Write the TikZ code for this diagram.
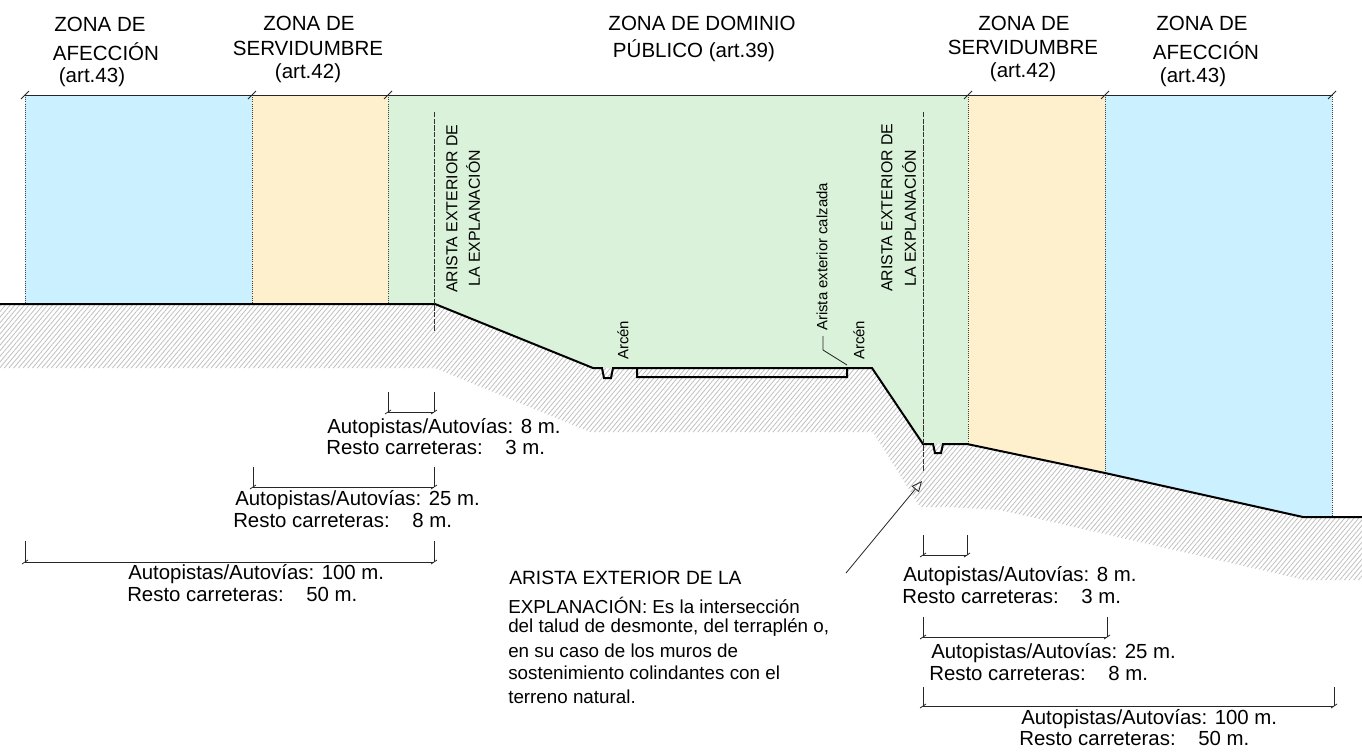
\documentclass[tikz,border=0pt]{standalone}
\usepackage{fontspec}
\setmainfont{Liberation Sans}
\usetikzlibrary{arrows.meta,patterns.meta}
\definecolor{zoneblue}{HTML}{CBF0FF}
\definecolor{zonetan}{HTML}{FFF0CD}
\definecolor{zonegreen}{HTML}{D9F2D9}
\begin{document}
\begin{tikzpicture}[
		x=0.75pt,y=-0.75pt,
		bigtext/.style={anchor=west,inner sep=0pt,font=\fontsize{15.3pt}{17pt}\selectfont},
		zonetext/.style={inner sep=0pt,font=\fontsize{15.4pt}{17pt}\selectfont},
		headtext/.style={anchor=west,inner sep=0pt,font=\fontsize{14.4pt}{17pt}\selectfont},
		notetext/.style={anchor=west,inner sep=0pt,font=\fontsize{14.1pt}{16pt}\selectfont},
		sidetext/.style={anchor=west,rotate=90,inner sep=0pt,font=\fontsize{11.9pt}{14pt}\selectfont},
		smalltext/.style={anchor=west,rotate=90,inner sep=0pt,font=\fontsize{11.2pt}{13pt}\selectfont},
		dimline/.style={draw=black!85,line width=0.6pt},
		zoneedge/.style={draw=black!75,line width=0.6pt,densely dotted},
		axisline/.style={draw=black!80,line width=0.6pt,dash pattern=on 4pt off 1pt},
		groundline/.style={draw=black,line width=1.5pt,line join=miter}
		]
		\useasboundingbox (0,0) rectangle (1362,754);
		% hatched ground
		\fill[pattern={Lines[angle=50,distance=2.7pt,line width=0.6pt]},pattern color=black!25]
			(0,304) -- (435,304) -- (593,368) -- (872,368) -- (923,444) -- (967,444) -- (1303,517) -- (1362,517)
			-- (1362,580) -- (1305,580) -- (1000,510) -- (950,507) -- (920,507) -- (873,432) -- (590,432) -- (435,368) -- (0,368) -- cycle;
		% zones
		\fill[zoneblue] (25,95) rectangle (252,304);
		\fill[zonetan] (252,95) rectangle (388,304);
		\fill[zonegreen] (388,95) -- (968,95) -- (968,444) -- (923,444) -- (872,368) -- (593,368) -- (435,304) -- (388,304) -- cycle;
		\fill[zonetan] (968,95) -- (1105,95) -- (1105,473) -- (968,444) -- cycle;
		\fill[zoneblue] (1105,95) -- (1332,95) -- (1332,517) -- (1303,517) -- (1105,473) -- cycle;
		\foreach \xa/\ya in {25/304,252/304,388/304,968/444,1105/478,1332/517}{
			\path[zoneedge] (\xa,95) -- (\xa,\ya);
			\draw[dimline] (\xa-4,99) -- (\xa+4,91);
		}
		\coordinate (topleft) at (25,95);
		\coordinate (topright) at (1332,95);
		\draw[dimline] (topleft) -- (topright);
		% ground
		\draw[groundline] (0,304) -- (435,304) -- (593,368) -- (602,368) -- (604,378) -- (611,378) -- (613,368) -- (637,368) -- (637,377) -- (847,377) -- (847,368) -- (637,368);
		\draw[groundline] (847,368) -- (872,368) -- (923,444) -- (933,444) -- (935,453) -- (941,453) -- (943,444) -- (967,444) -- (1105,473) -- (1303,517) -- (1362,517);
		\draw[axisline] (434,112) -- (434,332);
		\draw[axisline] (923,112) -- (923,472);
		% dimensions
		\foreach \xa/\xb/\ya/\yb in {388/434/392/412,253/434/467/487,25/434/541/562,923/967/535/555,923/1107/617/637,923/1334/687/706}{
			\coordinate (dima) at (\xa,\yb);
			\coordinate (dimb) at (\xb,\yb);
			\draw[dimline] (dima) -- (dimb);
			\draw[dimline] (\xa,\ya) -- (dima) (\xb,\ya) -- (dimb);
			\draw[dimline] (\xa-3,\yb+2) -- (\xa+3,\yb-2) (\xb-3,\yb+2) -- (\xb+3,\yb-2);
		}
		% zone labels
		\node[zonetext] (za1) at (100,24) {ZONA DE};
		\node[zonetext] (za2) at (106,52) {AFECCIÓN};
		\node[zonetext] (za3) at (92,77) {(art.43)};
		\node[zonetext] (zs1) at (309,23) {ZONA DE};
		\node[zonetext] (zs2) at (308,48) {SERVIDUMBRE};
		\node[zonetext] (zs3) at (308,73) {(art.42)};
		\node[zonetext] (zd1) at (702,23) {ZONA DE DOMINIO};
		\node[zonetext] (zd2) at (694,51) {PÚBLICO (art.39)};
		\node[zonetext] (zt1) at (1024,23) {ZONA DE};
		\node[zonetext] (zt2) at (1023,47) {SERVIDUMBRE};
		\node[zonetext] (zt3) at (1023,72) {(art.42)};
		\node[zonetext] (zb1) at (1202,23) {ZONA DE};
		\node[zonetext] (zb2) at (1206,51) {AFECCIÓN};
		\node[zonetext] (zb3) at (1193,77) {(art.43)};
		% rotated labels
		\node[sidetext] (ae1) at (452,293) {ARISTA EXTERIOR DE};
		\node[sidetext] (ae2) at (473,287) {LA EXPLANACIÓN};
		\node[sidetext] (ae3) at (887,292) {ARISTA EXTERIOR DE};
		\node[sidetext] (ae4) at (909,287) {LA EXPLANACIÓN};
		\node[smalltext] (arc1) at (623,360) {Arcén};
		\node[smalltext] (arc2) at (859,360) {Arcén};
		\node[smalltext] (cal) at (822,331) {Arista exterior calzada};
		\coordinate (calfoot) at (847,365);
		\draw[dimline] (823,336) -- (823,350) -- (calfoot);
		% distances
		\node[bigtext] (la1) at (327,428) {Autopistas/Autovías: 8 m.};
		\node[bigtext] (la2) at (326,447) {Resto carreteras:\ \ \ \ 3 m.};
		\node[bigtext] (lb1) at (235,500) {Autopistas/Autovías: 25 m.};
		\node[bigtext] (lb2) at (233,520) {Resto carreteras:\ \ \ \ 8 m.};
		\node[bigtext] (lc1) at (128,574) {Autopistas/Autovías: 100 m.};
		\node[bigtext] (lc2) at (127,594) {Resto carreteras:\ \ \ \ 50 m.};
		\node[bigtext] (ra1) at (903,576) {Autopistas/Autovías: 8 m.};
		\node[bigtext] (ra2) at (902,596) {Resto carreteras:\ \ \ \ 3 m.};
		\node[bigtext] (rb1) at (931,653) {Autopistas/Autovías: 25 m.};
		\node[bigtext] (rb2) at (929,673) {Resto carreteras:\ \ \ \ 8 m.};
		\node[bigtext] (rc1) at (1021,719) {Autopistas/Autovías: 100 m.};
		\node[bigtext] (rc2) at (1019,738) {Resto carreteras:\ \ \ \ 50 m.};
		% note
		\node[headtext] (n1) at (509,578) {ARISTA EXTERIOR DE LA};
		\node[notetext] (n2) at (508,605) {EXPLANACIÓN: Es la intersección};
		\node[notetext] (n3) at (508,628) {del talud de desmonte, del terraplén o,};
		\node[notetext] (n4) at (508,651) {en su caso de los muros de};
		\node[notetext] (n5) at (508,673) {sostenimiento colindantes con el};
		\node[notetext] (n6) at (508,697) {terreno natural.};
		\coordinate (notefoot) at (846,573);
		\coordinate (notetip) at (922,481);
		\draw[dimline,-{Triangle[open,length=8pt,width=7pt]}] (notefoot) -- (notetip);
	\end{tikzpicture}
\end{document}
